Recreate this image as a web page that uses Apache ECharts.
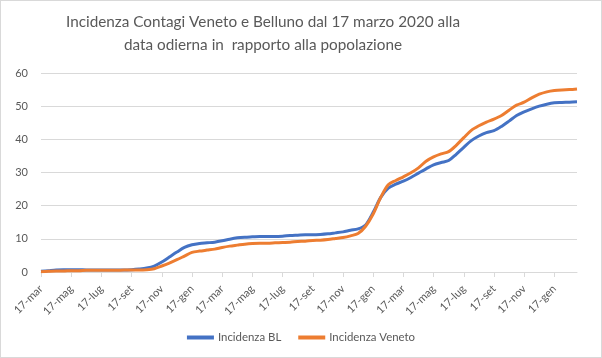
<!DOCTYPE html>
<html>
<head>
<meta charset="utf-8">
<script src="https://cdn.jsdelivr.net/npm/echarts@6/dist/echarts.min.js"></script>
<style>
html,body{margin:0;padding:0;background:#fff;}
#c{width:602px;height:358px;box-sizing:border-box;border:1px solid #d9d9d9;}
</style>
</head>
<body>
<div id="c"></div>
<script>
const titleLines = ["Incidenza Contagi Veneto e Belluno dal 17 marzo 2020 alla", "data odierna in  rapporto alla popolazione"];
const seriesNames = ["Incidenza BL", "Incidenza Veneto"];
const categories = [
 "17-mar-2020","1-apr-2020","17-apr-2020","1-mag-2020","17-mag-2020","1-giu-2020","17-giu-2020","1-lug-2020","17-lug-2020","1-ago-2020","17-ago-2020","1-set-2020","17-set-2020","1-ott-2020","17-ott-2020","1-nov-2020","17-nov-2020","1-dic-2020","17-dic-2020",
 "1-gen-2021","17-gen-2021","1-feb-2021","17-feb-2021","1-mar-2021","17-mar-2021","1-apr-2021","17-apr-2021","1-mag-2021","17-mag-2021","1-giu-2021","17-giu-2021","1-lug-2021","17-lug-2021","1-ago-2021","17-ago-2021","1-set-2021","17-set-2021","1-ott-2021","17-ott-2021","1-nov-2021","17-nov-2021","1-dic-2021","17-dic-2021",
 "1-gen-2022","17-gen-2022","1-feb-2022","17-feb-2022","1-mar-2022","17-mar-2022","1-apr-2022","17-apr-2022","1-mag-2022","17-mag-2022","1-giu-2022","17-giu-2022","1-lug-2022","17-lug-2022","1-ago-2022","17-ago-2022","1-set-2022","17-set-2022","1-ott-2022","17-ott-2022","1-nov-2022","17-nov-2022","1-dic-2022","17-dic-2022",
 "1-gen-2023","17-gen-2023","1-feb-2023","17-feb-2023","1-mar-2023"
];
const incidenzaBL = [
 0.2,0.4,0.6,0.7,0.7,0.7,0.6,0.6,0.6,0.6,0.6,0.6,0.7,0.9,1.2,1.8,3.0,4.5,6.0,
 7.4,8.2,8.6,8.8,9.0,9.4,9.9,10.3,10.5,10.6,10.7,10.7,10.7,10.8,11.0,11.1,11.2,11.2,11.3,11.5,11.8,12.1,12.6,13.0,
 14.2,18.0,22.5,25.3,26.5,27.4,28.5,29.8,31.1,32.3,33.0,33.6,35.5,37.6,39.6,41.0,42.0,42.6,43.9,45.5,47.2,48.3,49.2,50.0,
 50.6,51.0,51.1,51.2,51.3
];
const incidenzaVeneto = [
 0.1,0.2,0.3,0.3,0.4,0.4,0.5,0.5,0.5,0.5,0.5,0.6,0.6,0.6,0.7,1.0,1.8,2.7,3.7,
 4.8,5.9,6.3,6.6,6.9,7.4,7.8,8.1,8.4,8.6,8.7,8.7,8.8,8.9,9.0,9.2,9.3,9.5,9.6,9.8,10.1,10.4,10.9,11.6,
 13.8,17.5,22.5,26.3,27.6,28.7,29.9,31.4,33.4,34.7,35.6,36.3,38.2,40.5,42.7,44.1,45.2,46.1,47.2,48.8,50.3,51.2,52.5,53.6,
 54.3,54.7,54.9,55.0,55.2
];
const yMin = 0, yMax = 60, yStep = 10;

const chart = echarts.init(document.getElementById('c'), null, {renderer: 'canvas'});
const gray = '#595959';
const font = 'Lato, Open Sans, sans-serif';
const titleStyle = {fontFamily: font, fontSize: 15.3, fontWeight: 'normal', color: gray};
chart.setOption({
  animation: false,
  backgroundColor: '#ffffff',
  title: [
    {text: titleLines[0], left: 262, top: 14, textAlign: 'center', padding: 0, textStyle: titleStyle},
    {text: titleLines[1], left: 262, top: 37, textAlign: 'center', padding: 0, textStyle: titleStyle}
  ],
  grid: {left: 40, right: 24, top: 72, bottom: 85, containLabel: false},
  legend: {
    data: seriesNames,
    bottom: 9,
    left: 'center',
    icon: 'rect',
    itemWidth: 27,
    itemHeight: 4,
    itemGap: 17,
    textStyle: {fontFamily: font, fontSize: 11.4, color: gray, padding: [0,0,0,-1]}
  },
  xAxis: {
    type: 'category',
    data: categories,
    boundaryGap: false,
    axisLine: {lineStyle: {color: '#d9d9d9', width: 1}},
    axisTick: {show: true, interval: 3, length: 5, lineStyle: {color: '#d9d9d9'}},
    axisLabel: {
      interval: 3, rotate: 45, color: gray, fontFamily: font, fontSize: 11, margin: 15,
      formatter: s => s.replace(/-\d{4}$/, '')
    },
    splitLine: {show: false}
  },
  yAxis: {
    type: 'value',
    min: yMin, max: yMax, interval: yStep,
    axisLine: {show: false},
    axisTick: {show: false},
    axisLabel: {color: gray, fontFamily: font, fontSize: 11, margin: 13},
    splitLine: {lineStyle: {color: '#d9d9d9', width: 1}}
  },
  series: [
    {name: seriesNames[0], type: 'line', data: incidenzaBL, smooth: 0.3, symbol: 'none',
     lineStyle: {color: '#4472c4', width: 3}, itemStyle: {color: '#4472c4'}},
    {name: seriesNames[1], type: 'line', data: incidenzaVeneto, smooth: 0.3, symbol: 'none',
     lineStyle: {color: '#ed7d31', width: 3}, itemStyle: {color: '#ed7d31'}}
  ]
});
</script>
</body>
</html>
